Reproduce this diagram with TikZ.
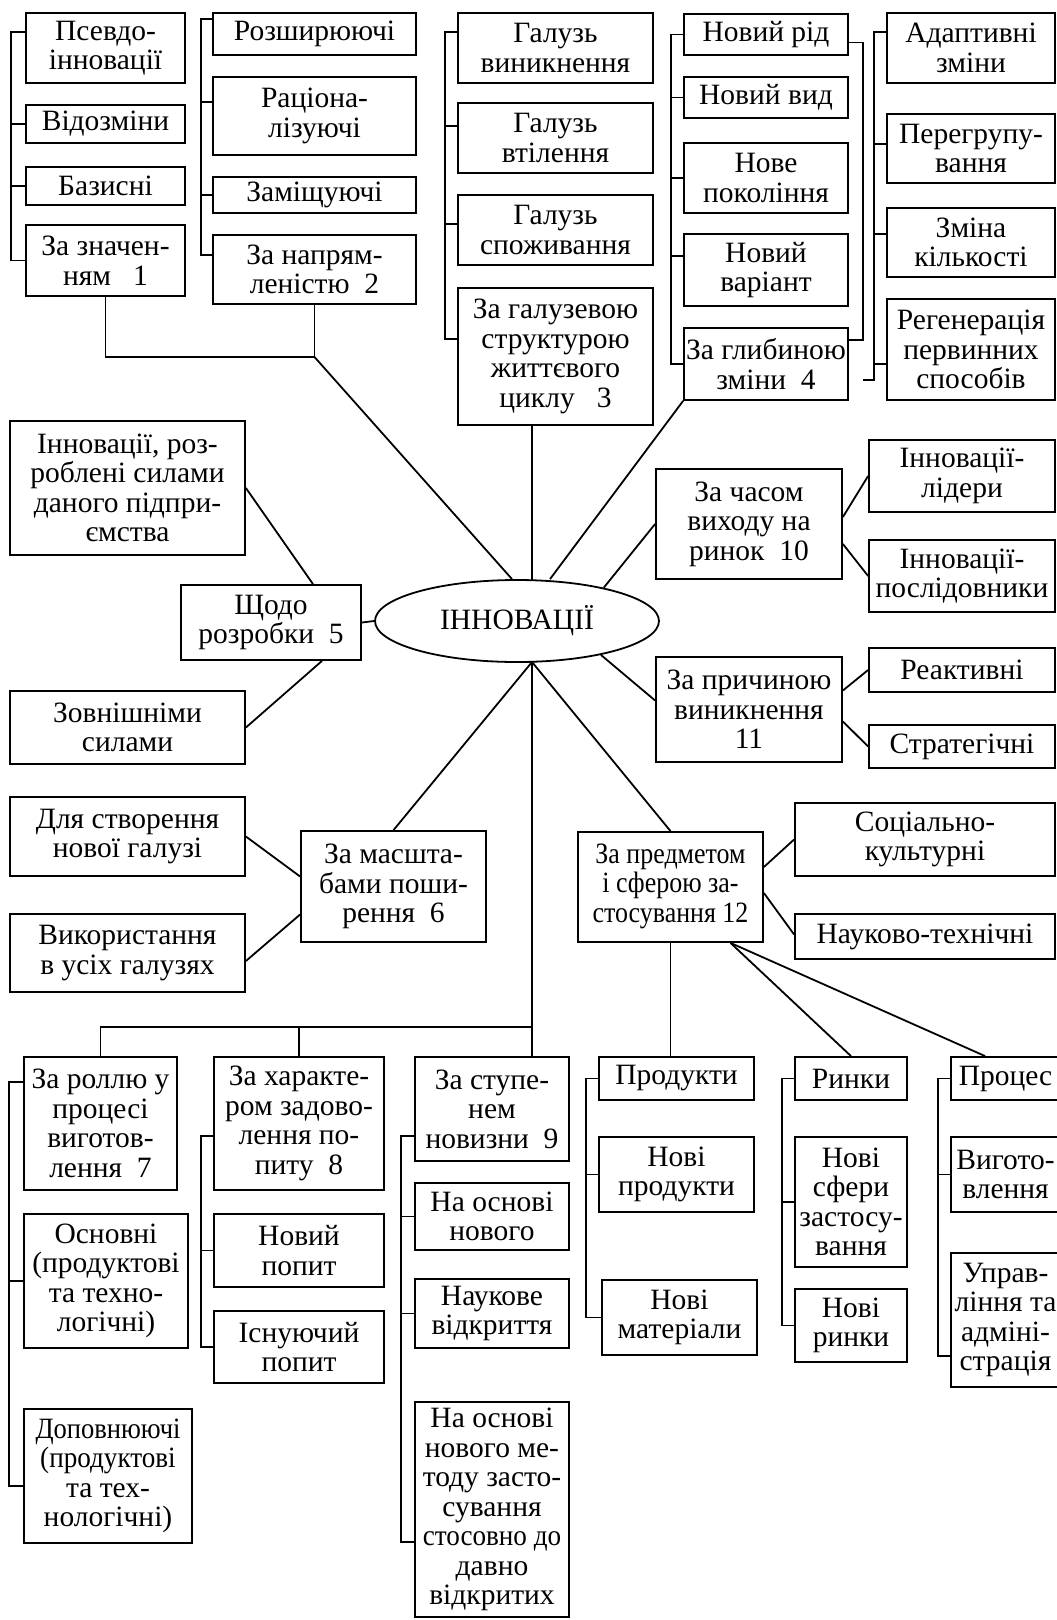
\documentclass[tikz,border=0pt]{standalone}
\usepackage{fontspec}
\setmainfont{Liberation Serif}
\usetikzlibrary{shapes.geometric}

\begin{document}
\begin{tikzpicture}[
  x=1pt,y=-1pt,
  box/.style={draw,line width=1.8pt,align=center,inner sep=0pt,font=\fontsize{29.5pt}{29.5pt}\selectfont},
  hubshape/.style={box,ellipse},
  link/.style={line width=1.8pt}
]
\path[use as bounding box,fill=white] (0,0) rectangle (1057,1620);
\node[box,minimum width=159pt,minimum height=70pt] (pseudo) at (105.5,48) {Псевдо-\\інновації};
\node[box,minimum width=159pt,minimum height=38pt] (vidozm) at (105.5,124) {Відозміни};
\node[box,minimum width=159pt,minimum height=38pt] (bazys) at (105.5,186) {Базисні};
\node[box,minimum width=159pt,minimum height=71pt] (znach) at (105.5,260.5) {За значен-\\ням\ \ \ 1};
\node[box,minimum width=203pt,minimum height=42pt] (rozsh) at (314.5,34) {Розширюючі};
\node[box,minimum width=203pt,minimum height=78pt] (rac) at (314.5,116) {Раціона-\\лізуючі};
\node[box,minimum width=203pt,minimum height=36pt] (zamish) at (314.5,195) {Заміщуючі};
\node[box,minimum width=203pt,minimum height=69pt] (naprym) at (314.5,269.5) {За напрям-\\леністю\ \ 2};
\node[box,minimum width=195pt,minimum height=70pt] (origin) at (555.5,48) {Галузь\\виникнення};
\node[box,minimum width=195pt,minimum height=70pt] (embod) at (555.5,138) {Галузь\\втілення};
\node[box,minimum width=195pt,minimum height=70pt] (consum) at (555.5,230) {Галузь\\споживання};
\node[box,minimum width=195pt,minimum height=137pt] (life) at (555.5,356.5) {За галузевою\\структурою\\життєвого\\циклу\ \ \ 3};
\node[box,minimum width=164pt,minimum height=41pt] (genus) at (766,34.5) {Новий рід};
\node[box,minimum width=164pt,minimum height=41pt] (species) at (766,97.5) {Новий вид};
\node[box,minimum width=164pt,minimum height=70pt] (gener) at (766,178) {Нове\\покоління};
\node[box,minimum width=164pt,minimum height=72pt] (variant) at (766,270) {Новий\\варіант};
\node[box,minimum width=164pt,minimum height=72pt] (depth) at (766,364) {За глибиною\\зміни\ \ 4};
\node[box,minimum width=168pt,minimum height=70pt] (adapt) at (971,48) {Адаптивні\\зміни};
\node[box,minimum width=168pt,minimum height=69pt] (regroup) at (971,148.5) {Перегрупу-\\вання};
\node[box,minimum width=168pt,minimum height=69pt] (amount) at (971,242.5) {Зміна\\кількості};
\node[box,minimum width=168pt,minimum height=101pt] (regen) at (971,349.5) {Регенерація\\первинних\\способів};

\node[hubshape,minimum width=284pt,minimum height=82pt] (hub) at (517,621) {ІННОВАЦІЇ};
\coordinate (hubN) at (532,580);
\coordinate (hubS) at (532,662);

\node[box,minimum width=235pt,minimum height=134pt] (own) at (127.5,488) {Інновації, роз-\\роблені силами\\даного підпри-\\ємства};
\node[box,minimum width=180pt,minimum height=75pt] (shchodo) at (271,622.5) {Щодо\\розробки\ \ 5};
\node[box,minimum width=235pt,minimum height=73pt] (ext) at (127.5,727.5) {Зовнішніми\\силами};
\node[box,minimum width=186pt,minimum height=110pt] (time) at (749,524) {За часом\\виходу на\\ринок\ \ 10};
\node[box,minimum width=186pt,minimum height=72pt] (lead) at (962,476) {Інновації-\\лідери};
\node[box,minimum width=186pt,minimum height=72pt] (follow) at (962,576) {Інновації-\\послідовники};
\node[box,minimum width=186pt,minimum height=105pt] (cause) at (749,709.5) {За причиною\\виникнення\\11};
\node[box,minimum width=186pt,minimum height=44pt] (react) at (962,670) {Реактивні};
\node[box,minimum width=186pt,minimum height=43pt] (strat) at (962,746.5) {Стратегічні};

\node[box,minimum width=235pt,minimum height=79pt] (newind) at (127.5,836.5) {Для створення\\нової галузі};
\node[box,minimum width=235pt,minimum height=78pt] (allind) at (127.5,953) {Використання\\в усіх галузях};
\node[box,minimum width=185pt,minimum height=111pt] (scale) at (393.5,886.5) {За масшта-\\бами поши-\\рення\ \ 6};
\node[box,minimum width=185pt,minimum height=110pt] (subject) at (670.5,887)
  {\scalebox{0.88}[1]{\begin{tabular}{@{}c@{}}За предметом\\і сферою за-\\стосування 12\end{tabular}}};
\node[box,minimum width=260pt,minimum height=73pt] (social) at (925,839.5) {Соціально-\\культурні};
\node[box,minimum width=260pt,minimum height=45pt] (scitech) at (925,936.5) {Науково-технічні};

\node[box,minimum width=153pt,minimum height=133pt] (role) at (100.5,1123.5) {За роллю у\\процесі\\виготов-\\лення\ \ 7};
\node[box,minimum width=164pt,minimum height=134pt] (basic) at (106,1281) {Основні\\(продуктові\\та техно-\\логічні)};
\node[box,minimum width=168pt,minimum height=134pt] (compl) at (108,1476) {\scalebox{0.9}[1]{Доповнюючі}\\\scalebox{0.92}[1]{(продуктові}\\та тех-\\нологічні)};
\node[box,minimum width=170pt,minimum height=133pt] (demand) at (299,1123.5) {За характе-\\ром задово-\\лення по-\\питу\ \ 8};
\node[box,minimum width=170pt,minimum height=73pt] (newdem) at (299,1250.5) {Новий\\попит};
\node[box,minimum width=170pt,minimum height=72pt] (exdem) at (299,1347) {Існуючий\\попит};
\node[box,minimum width=154pt,minimum height=104pt] (novelty) at (492,1109) {За ступе-\\нем\\новизни\ \ 9};
\node[box,minimum width=154pt,minimum height=67pt] (onnew) at (492,1216.5) {На основі\\нового};
\node[box,minimum width=154pt,minimum height=69pt] (discov) at (492,1313.5) {Наукове\\відкриття};
\node[box,minimum width=154pt,minimum height=215pt] (method) at (492,1509.5) {На основі\\нового ме-\\тоду засто-\\сування\\\scalebox{0.92}[1]{стосовно до}\\давно\\відкритих};
\node[box,minimum width=155pt,minimum height=43pt] (prod) at (676.5,1078.5) {Продукти};
\node[box,minimum width=155pt,minimum height=75pt] (newprod) at (676.5,1174.5) {Нові\\продукти};
\node[box,minimum width=155pt,minimum height=75pt] (newmat) at (679.5,1317.5) {Нові\\матеріали};
\node[box,minimum width=112pt,minimum height=43pt] (market) at (851,1078.5) {Ринки};
\node[box,minimum width=112pt,minimum height=130pt] (newsph) at (851,1202) {Нові\\сфери\\застосу-\\вання};
\node[box,minimum width=112pt,minimum height=73pt] (newmkt) at (851,1325.5) {Нові\\ринки};
\node[box,minimum width=109pt,minimum height=43pt] (process) at (1005.5,1078.5) {Процес};
\node[box,minimum width=109pt,minimum height=75pt] (manuf) at (1005.5,1174.5) {Вигото-\\влення};
\node[box,minimum width=109pt,minimum height=134pt] (admin) at (1005.5,1320) {Управ-\\ління та\\адміні-\\страція};

\draw[link] ([yshift=-20pt]pseudo.north west) -- ++(-14,0) |- (znach.west);
\draw[link] (vidozm.west) -- ++(-14,0);
\draw[link] (bazys.west) -- ++(-14,0);
\draw[link] ([yshift=-7pt]rozsh.north west) -- ++(-11,0) |- ([yshift=-21pt]naprym.north west);
\draw[link] ([yshift=-26pt]rac.north west) -- ++(-11,0);
\draw[link] (zamish.west) -- ++(-11,0);
\draw[link] ([yshift=-20pt]origin.north west) -- ++(-12,0) |- ([yshift=-52pt]life.north west);
\draw[link] ([yshift=-24pt]embod.north west) -- ++(-12,0);
\draw[link] ([yshift=-30pt]consum.north west) -- ++(-12,0);
\draw[link] (genus.west) -- ++(-12,0) |- (depth.west);
\draw[link] (species.west) -- ++(-12,0);
\draw[link] (gener.west) -- ++(-12,0);
\draw[link] ([yshift=-23pt]variant.north west) -- ++(-12,0);
\draw[link] ([yshift=-8pt]genus.east) -- ++(14,0) |- ([yshift=24pt]depth.east);
\draw[link] ([yshift=-16pt]depth.east) ++(14,0) -| ([xshift=-12pt,yshift=-20pt]adapt.north west) -- ([yshift=-20pt]adapt.north west);
\draw[link] ([yshift=-31pt]regroup.north west) -- ++(-12,0);
\draw[link] ([yshift=-27pt]amount.north west) -- ++(-12,0);
\draw[link] ([yshift=-66pt]regen.north west) -- ++(-12,0);

\coordinate (j12) at (314.5,357);
\draw[link] (znach.south) |- (j12) -- (naprym.south);
\draw[link] (j12) -- ([xshift=-5pt]hub.north);
\draw[link] (life.south -| hubN) -- (hubN);
\draw[link] (depth.south west) -- ([xshift=33pt]hub.north);
\draw[link] (shchodo.east) -- (hub.west);
\draw[link] (own.east) -- ([xshift=42pt]shchodo.north);
\draw[link] (ext.east) -- ([xshift=51pt]shchodo.south);
\draw[link] (time.west) -- (hub.21);
\draw[link] ([yshift=9pt]cause.west) -- (hub.-22);
\draw[link] ([yshift=7pt]time.east) -- (lead.west);
\draw[link] ([yshift=-20pt]time.east) -- (follow.west);
\draw[link] ([yshift=19pt]cause.east) -- (react.west);
\draw[link] ([yshift=-12pt]cause.east) -- (strat.west);

\draw[link] (hubS) -- (scale.north);
\draw[link] (hubS) -- (subject.north);
\draw[link] (hubS) -- (hubS |- novelty.north);
\coordinate (j789) at (532,1027);
\draw[link] (role.north) |- (j789);
\draw[link] (demand.north) -- (demand.north |- j789);
\draw[link] (newind.east) -- ([yshift=10pt]scale.west);
\draw[link] ([yshift=-8pt]allind.east) -- ([yshift=-28pt]scale.west);
\draw[link] ([yshift=20pt]subject.east) -- (social.west);
\draw[link] ([yshift=-6pt]subject.east) -- ([yshift=2pt]scitech.west);
\draw[link] (subject.south) -- (subject.south |- prod.north);
\draw[link] ([xshift=60pt]subject.south) -- (market.north);
\draw[link] ([xshift=60pt]subject.south) -- ([xshift=35pt]process.north west);

\draw[link] ([yshift=-26pt]role.north west) -- ++(-14,0) |- ([yshift=-78pt]compl.north west);
\draw[link] (basic.west) -- ++(-14,0);
\draw[link] ([yshift=-80pt]demand.north west) -- ++(-12,0) |- (exdem.west);
\draw[link] (newdem.west) -- ++(-12,0);
\draw[link] ([yshift=-80pt]novelty.north west) -- ++(-13,0) |- ([yshift=-141pt]method.north west);
\draw[link] (onnew.west) -- ++(-13,0);
\draw[link] (discov.west) -- ++(-13,0);
\draw[link] (prod.west) -- ++(-12,0) |- (newmat.west);
\draw[link] (newprod.west) -- ++(-12,0);
\draw[link] (market.west) -- ++(-12,0) |- (newmkt.west);
\draw[link] (newsph.west) -- ++(-12,0);
\draw[link] (process.west) -- ++(-12,0) |- ([yshift=-104pt]admin.north west);
\draw[link] (manuf.west) -- ++(-12,0);
\end{tikzpicture}
\end{document}
